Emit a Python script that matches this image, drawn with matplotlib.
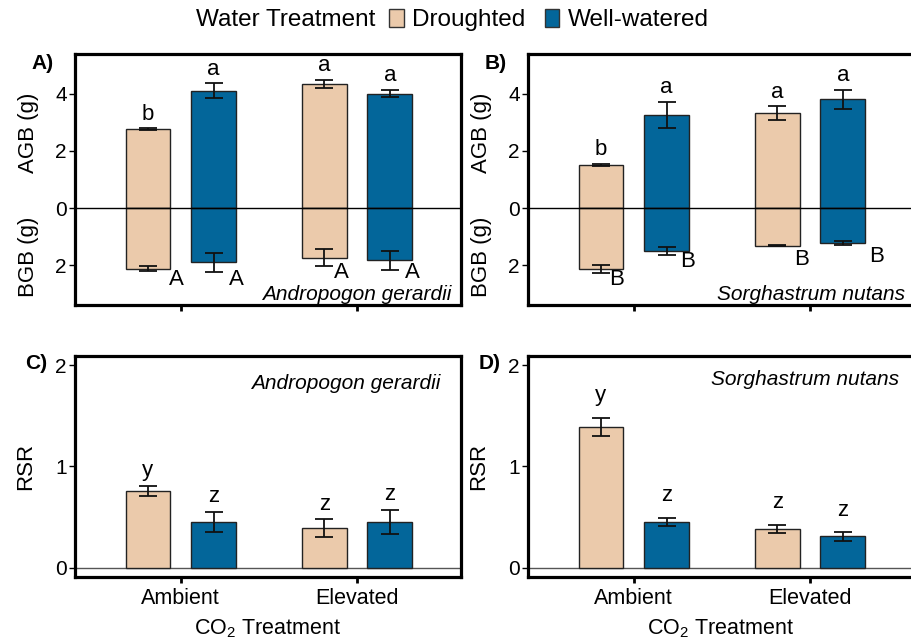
import numpy as np
import matplotlib
matplotlib.use('Agg')
import matplotlib.pyplot as plt
from matplotlib.patches import Patch

plt.rcParams['font.family'] = ['Liberation Sans', 'DejaVu Sans']
plt.rcParams['mathtext.default'] = 'regular'

# data, order: Ambient-Droughted, Ambient-Well-watered, Elevated-Droughted, Elevated-Well-watered
co2 = ['Ambient', 'Elevated']
water = ['Droughted', 'Well-watered']
colors = ['#EBCAAB', '#03669A']

agb_andro = [2.76, 4.11, 4.36, 4.01]
agb_andro_se = [0.03, 0.26, 0.14, 0.13]
bgb_andro = [2.13, 1.90, 1.75, 1.83]
bgb_andro_se = [0.08, 0.33, 0.30, 0.34]

agb_sorg = [1.52, 3.27, 3.33, 3.81]
agb_sorg_se = [0.03, 0.45, 0.23, 0.33]
bgb_sorg = [2.13, 1.50, 1.32, 1.22]
bgb_sorg_se = [0.14, 0.13, 0.02, 0.08]

rsr_andro = [0.76, 0.455, 0.39, 0.455]
rsr_andro_se = [0.05, 0.10, 0.09, 0.12]
rsr_sorg = [1.39, 0.455, 0.386, 0.31]
rsr_sorg_se = [0.09, 0.04, 0.04, 0.04]

agb_letters_andro = ['b', 'a', 'a', 'a']
bgb_letters_andro = ['A', 'A', 'A', 'A']
agb_letters_sorg = ['b', 'a', 'a', 'a']
bgb_letters_sorg = ['B', 'B', 'B', 'B']
rsr_letters_andro = ['y', 'z', 'z', 'z']
rsr_letters_sorg = ['y', 'z', 'z', 'z']

# where the BGB letters sit (x offset from bar, y)
bgb_lab_dx_andro = [0.16, 0.13, 0.10, 0.13]
bgb_lab_y_andro = [-2.5, -2.5, -2.27, -2.27]
bgb_lab_dx_sorg = [0.09, 0.12, 0.14, 0.19]
bgb_lab_y_sorg = [-2.5, -1.87, -1.81, -1.69]

W, H = 911, 643
fig = plt.figure(figsize=(W / 100, H / 100), dpi=100)

def ax_at(left, top, right, bottom):
    return fig.add_axes([left / W, 1 - bottom / H, (right - left) / W, (bottom - top) / H])

axA = ax_at(75, 54, 461, 305)
axB = ax_at(528, 54, 914, 305)
axC = ax_at(75, 356, 461, 577)
axD = ax_at(528, 356, 914, 577)

off = 0.186
bw = 0.254
xpos = [g + o for g in range(len(co2)) for o in (-off, off)]
bar_cols = [colors[i % 2] for i in range(4)]

def style(ax):
    for s in ax.spines.values():
        s.set_linewidth(2.3)
    ax.set_xlim(-0.6, 1.59)
    ax.set_xticks(range(len(co2)))
    ax.tick_params(axis='y', direction='out', length=4, width=1, labelsize=15, pad=2)
    ax.tick_params(axis='x', direction='out', length=4, width=2, labelsize=15.5, pad=4)

def biomass_panel(ax, agb, agb_se, bgb, bgb_se, up, low, ldx, ly, tag, species):
    style(ax)
    neg = [-v for v in bgb]
    ax.bar(xpos, agb, bw, color=bar_cols, edgecolor='#222222', linewidth=1, zorder=2)
    ax.bar(xpos, neg, bw, color=bar_cols, edgecolor='#222222', linewidth=1, zorder=2)
    ax.errorbar(xpos, agb, yerr=agb_se, fmt='none', ecolor='#111111', elinewidth=1.3,
                capsize=6.5, capthick=1.3, zorder=3)
    ax.errorbar(xpos, neg, yerr=bgb_se, fmt='none', ecolor='#111111', elinewidth=1.3,
                capsize=6.5, capthick=1.3, zorder=3)
    ax.axhline(0, color='black', lw=1, zorder=4)
    for i in range(4):
        ax.text(xpos[i], agb[i] + agb_se[i] + 0.5, up[i], ha='center', va='center', fontsize=16)
        ax.text(xpos[i] + ldx[i], ly[i], low[i], ha='center', va='center', fontsize=16)
    ax.set_ylim(-3.4, 5.4)
    ax.set_yticks([-2, 0, 2, 4])
    ax.set_yticklabels(['2', '0', '2', '4'])
    ax.set_xticklabels([])
    ax.text(-0.12, 0.685, 'AGB (g)', transform=ax.transAxes, rotation=90,
            ha='center', va='center', fontsize=16)
    ax.text(-0.12, 0.19, 'BGB (g)', transform=ax.transAxes, rotation=90,
            ha='center', va='center', fontsize=16)
    ax.text(-0.085, 0.964, tag, transform=ax.transAxes, ha='center', va='center',
            fontsize=15, fontweight='bold')
    ax.text(0.976, 0.04, species, transform=ax.transAxes, ha='right', va='center',
            fontsize=15, style='italic')

def rsr_panel(ax, rsr, rsr_se, lets, pad, tag, species, sx, sy):
    style(ax)
    ax.bar(xpos, rsr, bw, color=bar_cols, edgecolor='#222222', linewidth=1, zorder=2)
    ax.errorbar(xpos, rsr, yerr=rsr_se, fmt='none', ecolor='#111111', elinewidth=1.3,
                capsize=6.5, capthick=1.3, zorder=3)
    ax.axhline(0, color='#555555', lw=1, zorder=1)
    for i in range(4):
        ax.text(xpos[i], rsr[i] + rsr_se[i] + pad, lets[i], ha='center', va='center', fontsize=16)
    ax.set_ylim(-0.09, 2.09)
    ax.set_yticks([0, 1, 2])
    ax.set_xticklabels(co2)
    ax.set_ylabel('RSR', fontsize=16)
    ax.yaxis.set_label_coords(-0.1, 0.5)
    ax.set_xlabel('CO$_2$ Treatment', fontsize=15.5)
    ax.xaxis.set_label_coords(0.5, -0.185)
    ax.text(-0.1, 0.968, tag, transform=ax.transAxes, ha='center', va='center',
            fontsize=15, fontweight='bold')
    ax.text(sx, sy, species, transform=ax.transAxes, ha='right', va='center',
            fontsize=15, style='italic')

biomass_panel(axA, agb_andro, agb_andro_se, bgb_andro, bgb_andro_se, agb_letters_andro,
              bgb_letters_andro, bgb_lab_dx_andro, bgb_lab_y_andro, 'A)', 'Andropogon gerardii')
biomass_panel(axB, agb_sorg, agb_sorg_se, bgb_sorg, bgb_sorg_se, agb_letters_sorg,
              bgb_letters_sorg, bgb_lab_dx_sorg, bgb_lab_y_sorg, 'B)', 'Sorghastrum nutans')
rsr_panel(axC, rsr_andro, rsr_andro_se, rsr_letters_andro, 0.15, 'C)',
          'Andropogon gerardii', 0.946, 0.876)
rsr_panel(axD, rsr_sorg, rsr_sorg_se, rsr_letters_sorg, 0.22, 'D)',
          'Sorghastrum nutans', 0.961, 0.895)

# legend across the top
fig.text(196 / W, 1 - 20 / H, 'Water Treatment', ha='left', va='center', fontsize=17.5)
handles = [Patch(facecolor=c, edgecolor='#333333', linewidth=1) for c in colors]
fig.legend(handles, water, loc='center left', bbox_to_anchor=(389 / W, 1 - 20 / H), ncol=2,
           frameon=False, fontsize=17.5, handlelength=0.6, handleheight=0.75,
           handletextpad=0.35, columnspacing=0.8, borderaxespad=0, borderpad=0)

fig.savefig('out.png', dpi=100)
